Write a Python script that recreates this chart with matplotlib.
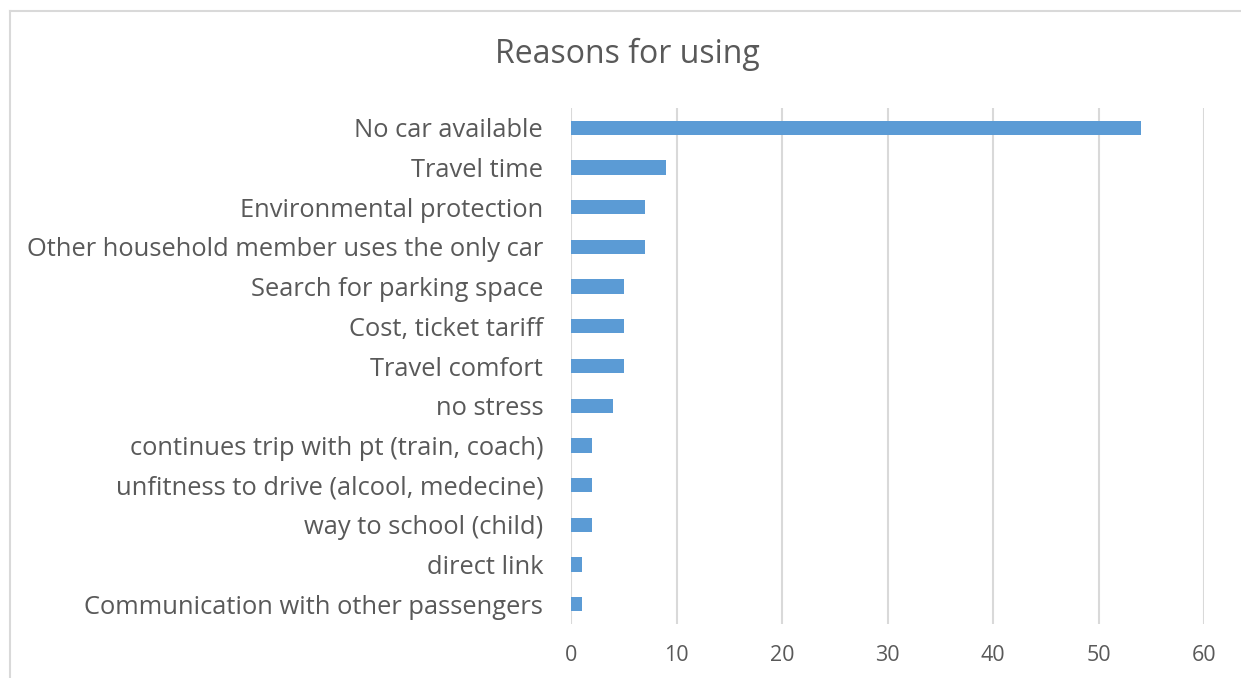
import matplotlib
matplotlib.use("Agg")
import matplotlib.pyplot as plt
from matplotlib.lines import Line2D

categories = [
    "No car available",
    "Travel time",
    "Environmental protection",
    "Other household member uses the only car",
    "Search for parking space",
    "Cost, ticket tariff",
    "Travel comfort",
    "no stress",
    "continues trip with pt (train, coach)",
    "unfitness to drive (alcool, medecine)",
    "way to school (child)",
    "direct link",
    "Communication with other passengers",
]
values = [54, 9, 7, 7, 5, 5, 5, 4, 2, 2, 2, 1, 1]
xticks = [0, 10, 20, 30, 40, 50, 60]
title = "Reasons for using"

plt.rcParams['font.family'] = ['Open Sans', 'DejaVu Sans']
W, H = 1241, 678
fig = plt.figure(figsize=(W / 100, H / 100), dpi=100)
ax = fig.add_axes([571 / W, 1 - 624 / H, (1204 - 571) / W, (624 - 108) / H])

ypos = list(range(len(categories)))
ax.barh(ypos, values, height=0.36, color="#5B9BD5", zorder=3)
ax.set_ylim(len(categories) - 0.5, -0.5)
ax.set_xlim(0, 60)
ax.set_xticks(xticks)
ax.set_xticklabels([str(t) for t in xticks])
ax.set_yticks(ypos)
ax.set_yticklabels(categories)
ax.tick_params(axis='both', length=0, colors="#595959")
ax.tick_params(axis='x', pad=15, labelsize=15.5)
ax.tick_params(axis='y', pad=20, labelsize=18.4)
ax.grid(axis='x', color="#D9D9D9", linewidth=1.5, zorder=0)
for s in ax.spines.values():
    s.set_visible(False)

fig.text(627 / W, 1 - 54 / H, title, ha='center', va='center', fontsize=23, color="#595959")

# chart border (partially visible)
fig.add_artist(Line2D([9.5 / W, 9.5 / W], [0, 1 - 10.5 / H], transform=fig.transFigure, color="#D9D9D9", linewidth=1.5))
fig.add_artist(Line2D([9.5 / W, 1], [1 - 10.5 / H, 1 - 10.5 / H], transform=fig.transFigure, color="#D9D9D9", linewidth=1.5))

fig.savefig("out.png", dpi=100)
